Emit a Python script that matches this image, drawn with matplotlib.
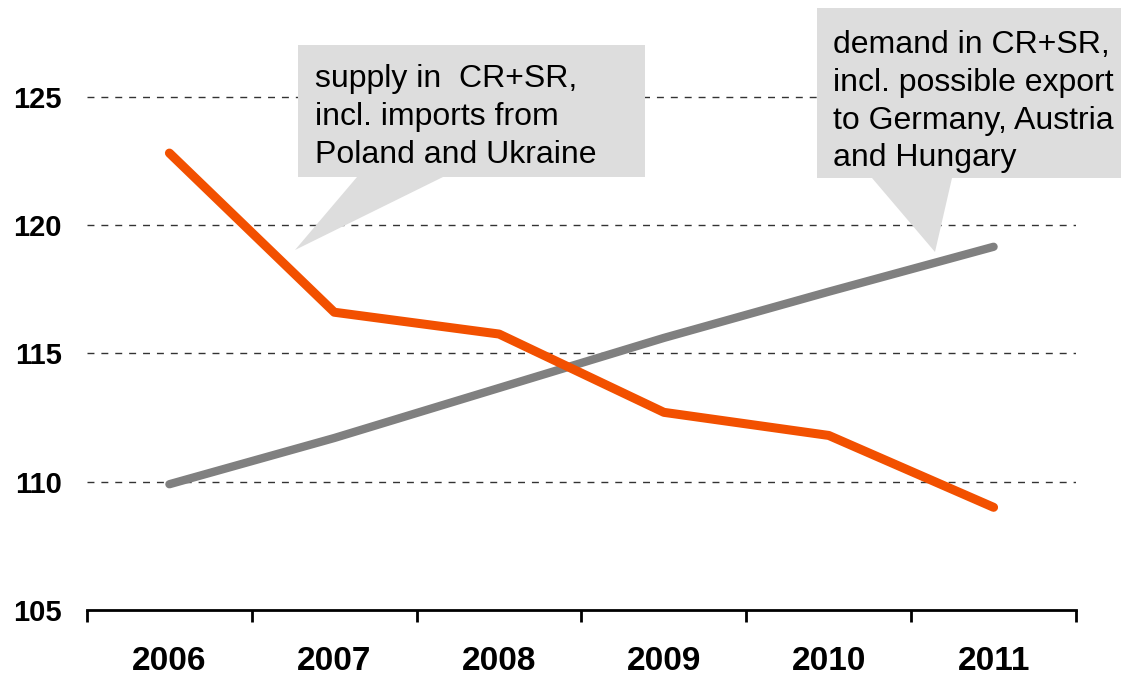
import matplotlib
matplotlib.use("Agg")
import matplotlib.pyplot as plt
from matplotlib.patches import Polygon
from matplotlib.ticker import FixedLocator

plt.rcParams['font.family'] = ['Liberation Sans', 'DejaVu Sans']
plt.rcParams['lines.scale_dashes'] = False

years = ['2006', '2007', '2008', '2009', '2010', '2011']
supply = [122.8, 116.6, 115.75, 112.7, 111.8, 109.0]
demand = [109.9, 111.7, 113.65, 115.6, 117.4, 119.15]
yticks = [105, 110, 115, 120, 125]
supply_text = "supply in  CR+SR,\nincl. imports from\nPoland and Ukraine"
demand_text = "demand in CR+SR,\nincl. possible export\nto Germany, Austria\nand Hungary"

W, H = 1128, 676
fig = plt.figure(figsize=(W / 100, H / 100), dpi=100)
ax = fig.add_axes([87 / W, (H - 610) / H, (1076 - 87) / W, 610 / H])

x = list(range(len(years)))
ax.set_xlim(-0.5, len(years) - 0.5)
ax.set_ylim(105, 105 + 610 / 25.67)

for y in yticks[1:]:
    ax.axhline(y, color='#333333', lw=1.0, ls=(0, (5.0, 5.0)), zorder=1)

ax.plot(x, demand, color='#808080', lw=6.0, solid_capstyle='round', zorder=4)
ax.plot(x, supply, color='#F25000', lw=6.5, solid_capstyle='round', zorder=5)

for s in ['top', 'right', 'left']:
    ax.spines[s].set_visible(False)
ax.spines['bottom'].set_linewidth(2.0)
ax.spines['bottom'].set_color('black')

ax.xaxis.set_major_locator(FixedLocator([i - 0.5 for i in range(len(years) + 1)]))
ax.xaxis.set_minor_locator(FixedLocator(x))
ax.set_xticklabels([''] * (len(years) + 1))
ax.set_xticklabels(years, minor=True)
ax.tick_params(axis='x', which='major', direction='out', length=8.5, width=2.0, color='black')
ax.tick_params(axis='x', which='minor', length=0, pad=26, labelsize=24)
for lab in ax.get_xticklabels(minor=True):
    lab.set_fontweight('bold')

ax.set_yticks(yticks)
ax.set_yticklabels([str(v) for v in yticks])
ax.tick_params(axis='y', length=0, pad=18, labelsize=21)
for lab in ax.get_yticklabels():
    lab.set_fontweight('bold')


def px(pts):
    return [(a / W, 1 - b / H) for a, b in pts]


box1 = [(298, 45), (645, 45), (645, 177), (443, 177), (295, 250), (357, 177), (298, 177)]
box2 = [(817, 8), (1121, 8), (1121, 178), (952, 178), (935, 252), (872, 178), (817, 178)]
for b in (box1, box2):
    ax.add_patch(Polygon(px(b), closed=True, transform=fig.transFigure,
                         facecolor='#DDDDDD', edgecolor='none', zorder=2, clip_on=False))

fig.text(315 / W, 1 - 64.5 / H, supply_text, fontsize=23, va='top', ha='left',
         linespacing=1.34, color='black', zorder=6)
fig.text(833 / W, 1 - 30 / H, demand_text, fontsize=23, va='top', ha='left',
         linespacing=1.34, color='black', zorder=6)

fig.savefig('out.png', dpi=100)
